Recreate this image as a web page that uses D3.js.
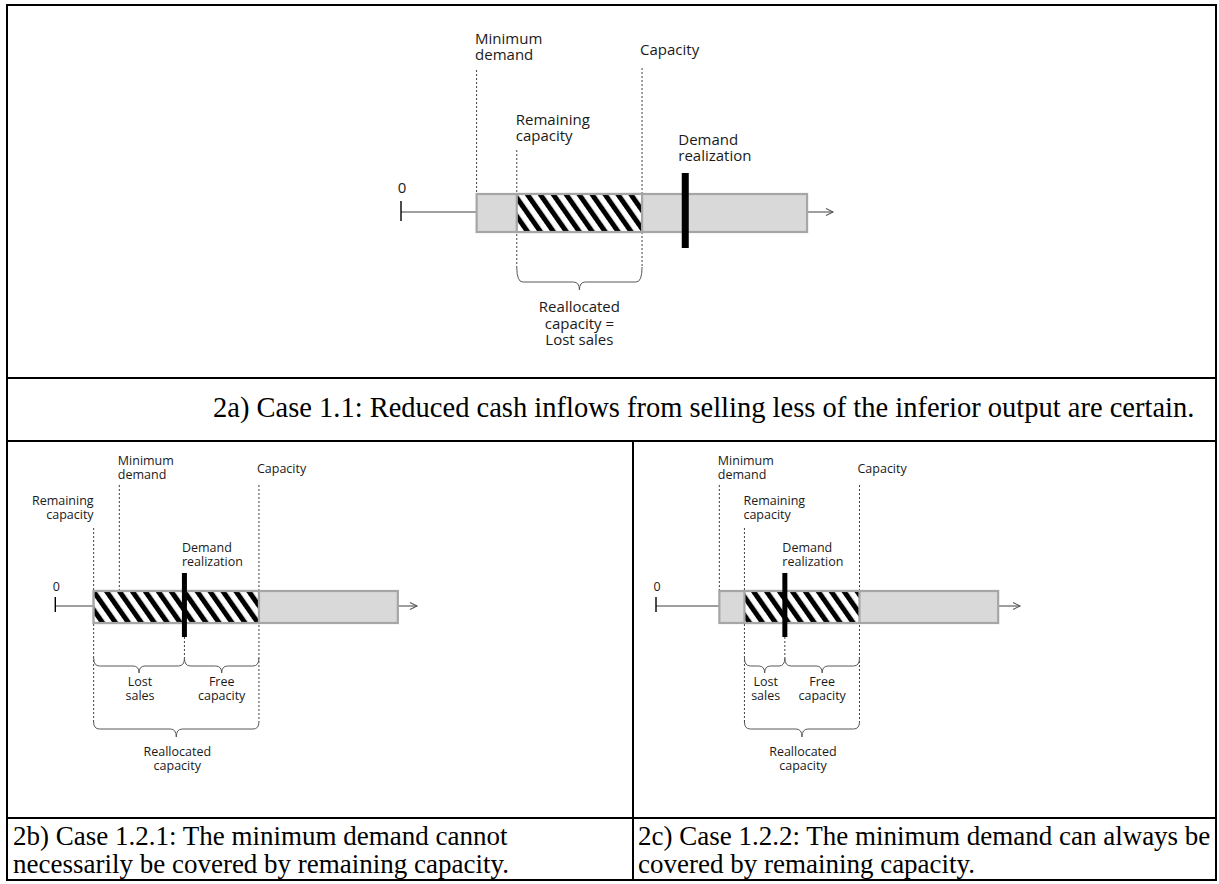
<!DOCTYPE html>
<html>
<head>
<meta charset="utf-8">
<script src="https://cdn.jsdelivr.net/npm/d3@7"></script>
<style>
  body { margin: 0; background: #fff; }
</style>
</head>
<body>
<svg id="fig" width="1219" height="884"></svg>
<script>
// values in axis units: 0 = origin tick, 100 = arrow tip
const panelIds = ["2a", "2b", "2c"];
const minDemand = [17.5, 17.7, 17.4];
const remainingCapacity = [26.8, 10.6, 24.3];
const capacity = [55.8, 56.3, 55.9];
const demandRealization = [65.8, 35.7, 35.4];
const barEnd = [94.0, 94.7, 94.0];

const markLabels = {
  minDemand: ["Minimum", "demand"],
  capacity: ["Capacity"],
  remaining: ["Remaining", "capacity"],
  demand: ["Demand", "realization"]
};
const braceLabelsTop = ["Reallocated", "capacity =", "Lost sales"];
const braceLabelsLost = ["Lost", "sales"];
const braceLabelsFree = ["Free", "capacity"];
const braceLabelsRealloc = ["Reallocated", "capacity"];

const captionLines = [
  ["2a) Case 1.1: Reduced cash inflows from selling less of the inferior output are certain."],
  ["2b) Case 1.2.1: The minimum demand cannot", "necessarily be covered by remaining capacity."],
  ["2c) Case 1.2.2: The minimum demand can always be", "covered by remaining capacity."]
];

const sansFont = "'Open Sans', 'DejaVu Sans', sans-serif";
const serifFont = "'Liberation Serif', 'Times New Roman', serif";
const textColor = "#1a1a1a";
const barFill = "#d9d9d9";
const barStroke = "#a6a6a6";
const dashColor = "#404040";
const braceColor = "#595959";

let svg = d3.select("#fig");

// hatch pattern (wide downward diagonal)
svg.append("defs").append("pattern")
  .attr("id", "hatch")
  .attr("patternUnits", "userSpaceOnUse")
  .attr("width", 10.6)
  .attr("height", 20)
  .attr("patternTransform", "rotate(-35)")
  .call(p => {
    p.append("rect").attr("width", 10.6).attr("height", 20).attr("fill", "#fff");
    p.append("rect").attr("width", 5).attr("height", 20).attr("fill", "#000");
  });

// panel layouts (pixels)
const layouts = [
  { x0: 401, x1: 833, axisY: 212, font: 15, lh: 16,
    bar: [-18, 38], demandBar: [-39, 36, 7], tick: [-11, 9], zeroY: -19,
    minLab: -168, minTop: -142, capLab: -157, capTop: -144,
    remLab: -87, remTop: -62, remAnchor: "start", remDx: -1,
    demLab: -67, demDx: -7, lineBottom: 55 },
  { x0: 55.3, x1: 417, axisY: 606, font: 12.5, lh: 13.5,
    bar: [-15, 32], demandBar: [-33, 31, 5], tick: [-9, 6], zeroY: -15,
    minLab: -141, minTop: -121, capLab: -133, capTop: -121,
    remLab: -101, remTop: -78, remAnchor: "end", remDx: 0,
    demLab: -54, demDx: -2.5, lineBottom: 116 },
  { x0: 656, x1: 1020, axisY: 606, font: 12.5, lh: 13.5,
    bar: [-15, 32], demandBar: [-33, 31, 5], tick: [-9, 6], zeroY: -15,
    minLab: -141, minTop: -121, capLab: -133, capTop: -121,
    remLab: -101, remTop: -78, remAnchor: "start", remDx: -1,
    demLab: -54, demDx: -2.5, lineBottom: 116 }
];

function addLines(g, lines, x, y, lh, anchor, size) {
  let t = g.append("text")
    .attr("x", x)
    .attr("y", y)
    .attr("text-anchor", anchor)
    .style("font-family", sansFont)
    .style("font-size", size + "px")
    .style("fill", textColor);
  lines.forEach((s, i) => {
    t.append("tspan").attr("x", x).attr("y", y + i * lh).text(s);
  });
}

function bracePath(xa, xb, yTop, yMid, yTip) {
  let xm = (xa + xb) / 2;
  let r = Math.min(6, (xb - xa) / 5);
  let p = d3.path();
  p.moveTo(xa, yTop);
  p.quadraticCurveTo(xa, yMid, xa + r, yMid);
  p.lineTo(xm - r, yMid);
  p.quadraticCurveTo(xm, yMid, xm, yTip);
  p.quadraticCurveTo(xm, yMid, xm + r, yMid);
  p.lineTo(xb - r, yMid);
  p.quadraticCurveTo(xb, yMid, xb, yTop);
  return p.toString();
}

function drawBrace(g, xa, xb, yTop, yMid, yTip) {
  g.append("path")
    .attr("d", bracePath(xa, xb, yTop, yMid, yTip))
    .style("fill", "none")
    .style("stroke", braceColor)
    .style("stroke-width", 1);
}

function dashed(g, x, y1, y2) {
  g.append("line")
    .attr("x1", x).attr("x2", x)
    .attr("y1", y1).attr("y2", y2)
    .style("stroke", dashColor)
    .style("stroke-width", 1)
    .style("stroke-dasharray", "2,2");
}

panelIds.forEach((id, i) => {
  let L = layouts[i];
  let ay = L.axisY;
  let x = d3.scaleLinear().domain([0, 100]).range([L.x0, L.x1]);
  let g = svg.append("g").attr("class", "panel-" + id);

  let xMin = x(minDemand[i]);
  let xRem = x(remainingCapacity[i]);
  let xCap = x(capacity[i]);
  let xDem = x(demandRealization[i]);
  let xStart = x(Math.min(minDemand[i], remainingCapacity[i]));
  let xEnd = x(barEnd[i]);

  // dashed guide lines (behind the bar)
  dashed(g, xMin, ay + L.minTop, ay + L.bar[0]);
  dashed(g, xCap, ay + L.capTop, ay + L.lineBottom);
  dashed(g, xRem, ay + L.remTop, ay + L.lineBottom);

  // axis with arrow
  g.append("line")
    .attr("x1", x(0)).attr("x2", x(100))
    .attr("y1", ay).attr("y2", ay)
    .style("stroke", "#7f7f7f")
    .style("stroke-width", 1.3);
  g.append("path")
    .attr("d", `M${x(100) - 7},${ay - 3.5} L${x(100)},${ay} L${x(100) - 7},${ay + 3.5}`)
    .style("fill", "none")
    .style("stroke", "#595959")
    .style("stroke-width", 1.1);
  g.append("line")
    .attr("x1", x(0)).attr("x2", x(0))
    .attr("y1", ay + L.tick[0]).attr("y2", ay + L.tick[1])
    .style("stroke", "#000")
    .style("stroke-width", 1.4);
  g.append("text")
    .attr("x", x(0) + 1)
    .attr("y", ay + L.zeroY)
    .attr("text-anchor", "middle")
    .style("font-family", sansFont)
    .style("font-size", L.font + "px")
    .style("fill", textColor)
    .text("0");

  // bar and hatched part
  g.append("rect")
    .attr("x", xStart).attr("y", ay + L.bar[0])
    .attr("width", xEnd - xStart).attr("height", L.bar[1])
    .style("fill", barFill)
    .style("stroke", barStroke)
    .style("stroke-width", 2.2);
  g.append("rect")
    .attr("x", xRem).attr("y", ay + L.bar[0])
    .attr("width", xCap - xRem).attr("height", L.bar[1])
    .style("fill", "url(#hatch)")
    .style("stroke", barStroke)
    .style("stroke-width", 2.2);

  // demand realization marker
  g.append("rect")
    .attr("x", xDem - L.demandBar[2] / 2)
    .attr("y", ay + L.demandBar[0])
    .attr("width", L.demandBar[2])
    .attr("height", L.demandBar[1] - L.demandBar[0])
    .style("fill", "#000");

  // labels
  addLines(g, markLabels.minDemand, xMin - 1.5, ay + L.minLab, L.lh, "start", L.font);
  addLines(g, markLabels.capacity, xCap - 2, ay + L.capLab, L.lh, "start", L.font);
  addLines(g, markLabels.remaining, xRem + L.remDx, ay + L.remLab, L.lh, L.remAnchor, L.font);
  addLines(g, markLabels.demand, xDem + L.demDx, ay + L.demLab, L.lh, "start", L.font);

  // braces
  if (i === 0) {
    drawBrace(g, xRem, xCap, ay + 55, ay + 70, ay + 78);
    addLines(g, braceLabelsTop, (xRem + xCap) / 2, ay + 100, 16.5, "middle", L.font);
  } else {
    dashed(g, xDem, ay + L.demandBar[1], ay + 52);
    drawBrace(g, xRem, xDem, ay + 52, ay + 60, ay + 67);
    drawBrace(g, xDem, xCap, ay + 52, ay + 60, ay + 67);
    addLines(g, braceLabelsLost, (xRem + xDem) / 2 + 1, ay + 80, 14, "middle", L.font);
    addLines(g, braceLabelsFree, (xDem + xCap) / 2, ay + 80, 14, "middle", L.font);
    drawBrace(g, xRem, xCap, ay + 116, ay + 123, ay + 131);
    addLines(g, braceLabelsRealloc, (xRem + xCap) / 2 + 1, ay + 150, 14, "middle", L.font);
  }
});

// table frame
const frame = svg.append("g")
  .style("stroke", "#000")
  .style("stroke-width", 2)
  .style("fill", "none");
frame.append("rect").attr("x", 7).attr("y", 5).attr("width", 1209).attr("height", 875);
[[7, 378, 1216, 378], [7, 441, 1216, 441], [7, 818, 1216, 818], [633, 441, 633, 880]]
  .forEach(d => frame.append("line")
    .attr("x1", d[0]).attr("y1", d[1]).attr("x2", d[2]).attr("y2", d[3]));

// captions
const captionPos = [[213, 417], [13, 845], [638, 845]];
const captionSize = [28.5, 27, 27];
captionLines.forEach((lines, i) => {
  let t = svg.append("text")
    .style("font-family", serifFont)
    .style("font-size", captionSize[i] + "px")
    .style("fill", "#000");
  lines.forEach((s, j) => {
    t.append("tspan")
      .attr("x", captionPos[i][0])
      .attr("y", captionPos[i][1] + j * 28)
      .text(s);
  });
});
</script>
</body>
</html>
